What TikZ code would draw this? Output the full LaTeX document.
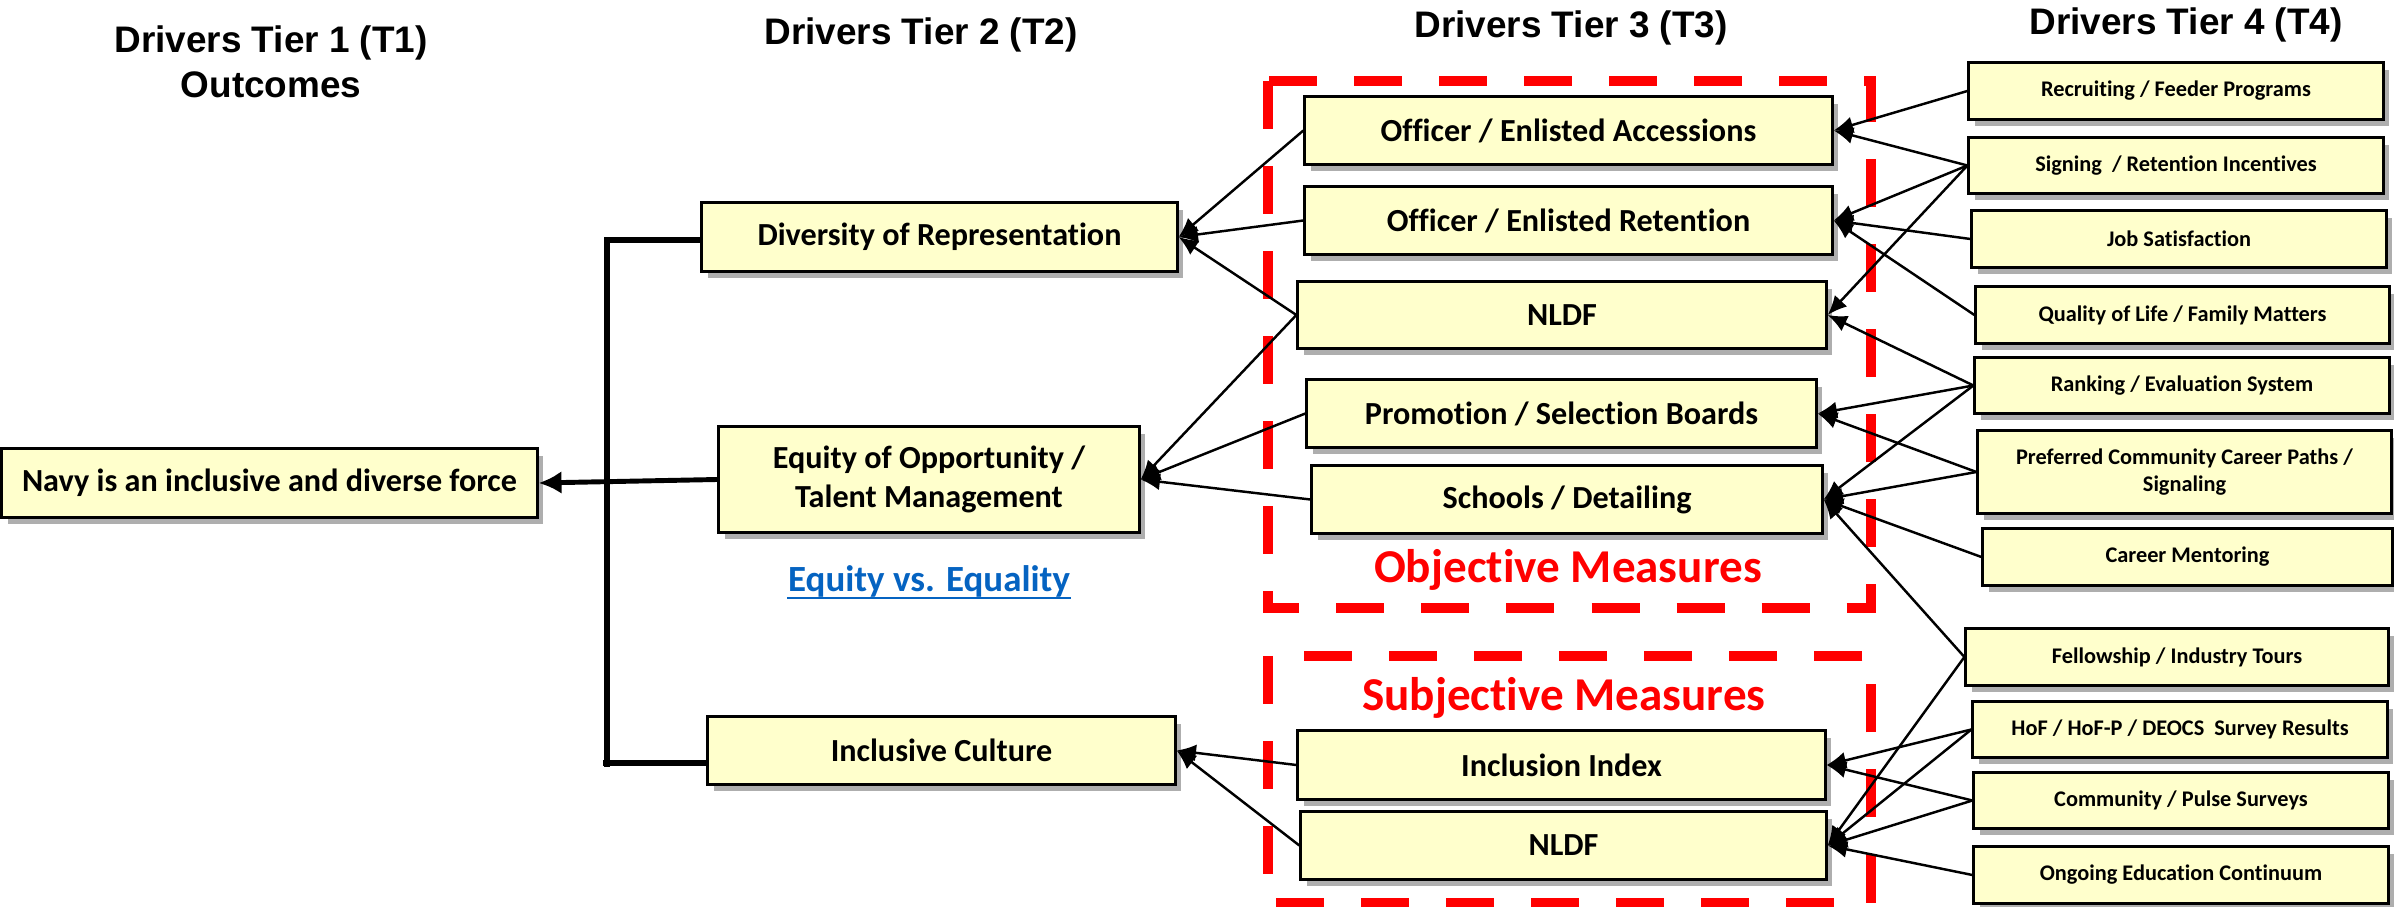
\documentclass[tikz,border=0pt]{standalone}
\usepackage{fontspec}
\setmainfont{Carlito}[Ligatures={NoCommon, NoContextual}]
\newfontfamily\headfont{Liberation Sans}
\usetikzlibrary{arrows.meta, shadows}

\definecolor{boxfill}{RGB}{255,255,204}
\definecolor{measurered}{RGB}{255,0,0}
\definecolor{linkblue}{RGB}{5,99,193}

\tikzset{
  drv/.style={draw=black, line width=0.85pt, fill=boxfill, inner sep=0pt, align=center,
    font=\bfseries\fontsize{9.15}{11.2}\selectfont,
    drop shadow={shadow xshift=0.06cm, shadow yshift=-0.07cm, opacity=0.45, fill=black!70}},
  tfour/.style={drv, font=\bfseries\fontsize{6.35}{7.7}\selectfont},
  tierhead/.style={font=\headfont\bfseries\fontsize{10.5}{12.8}\selectfont, inner sep=0pt},
  link/.style={line width=0.7pt, -{Latex[length=5.5pt, width=4.8pt]}},
  mainlink/.style={line width=1.4pt, -{Latex[length=6.5pt, width=6.5pt]}},
  bracket/.style={line width=1.5pt},
  measurebox/.style={draw=measurered, line width=3.1pt, dash pattern=on 0.48cm off 0.37cm},
  measurelabel/.style={text=measurered, inner sep=0pt, font=\bfseries\fontsize{13.4}{15.5}\selectfont}
}

\begin{document}
\begin{tikzpicture}[x=0.01cm, y=-0.01cm]
                  \useasboundingbox (0,0) rectangle (2394,907);

                  % Tier headers
                  \node[tierhead, anchor=base] (hone) at (271,53) {Drivers Tier 1 (T1)};
                  \node[tierhead, anchor=base] (honeb) at (271,98) {Outcomes};
                  \node[tierhead, anchor=base] (htwo) at (921,45) {Drivers Tier 2 (T2)};
                  \node[tierhead, anchor=base] (hthree) at (1571,38) {Drivers Tier 3 (T3)};
                  \node[tierhead, anchor=base] (hfour) at (2186,35) {Drivers Tier 4 (T4)};

                  % Measure groups
                  \draw[measurebox] (1268,81) rectangle (1871,608);
                  \draw[measurebox] (1268,656) rectangle (1871,903);
                  \node[measurelabel, anchor=base] (objlbl) at (1568,583) {Objective Measures};
                  \node[measurelabel, anchor=base] (subjlbl) at (1564,710) {Subjective Measures};

                  % Tier 1
                  \node[drv, minimum width=5.35cm, minimum height=0.68cm] (navy) at (269.5,483) {Navy is an inclusive and diverse force};

                  % Tier 2
                  \node[drv, minimum width=4.75cm, minimum height=0.68cm] (div) at (939.5,237) {Diversity of Representation};
                  \node[drv, minimum width=4.2cm, minimum height=1.05cm] (eqt) at (929,479.5) {Equity of Opportunity /\\Talent Management};
                  \node[drv, minimum width=4.67cm, minimum height=0.67cm] (inc) at (941.5,750.5) {Inclusive Culture};
                  \node[inner sep=0pt, anchor=base, text=linkblue, font=\bfseries\fontsize{10.5}{12.5}\selectfont] (eqlink) at (929,592) {Equity vs. Equality};
                  \draw[linkblue, line width=0.6pt] ([yshift=-1.6pt]eqlink.base west) -- ([yshift=-1.6pt]eqlink.base east);

                  % Tier 3
                  \node[drv, minimum width=5.27cm, minimum height=0.67cm] (acc) at (1568.5,130.5) {Officer / Enlisted Accessions};
                  \node[drv, minimum width=5.27cm, minimum height=0.67cm] (ret) at (1568.5,220.5) {Officer / Enlisted Retention};
                  \node[drv, minimum width=5.28cm, minimum height=0.66cm] (nldfA) at (1562,315) {NLDF};
                  \node[drv, minimum width=5.09cm, minimum height=0.67cm] (prom) at (1561.5,413.5) {Promotion / Selection Boards};
                  \node[drv, minimum width=5.1cm, minimum height=0.67cm] (sch) at (1567,499.5) {Schools / Detailing};
                  \node[drv, minimum width=5.27cm, minimum height=0.68cm] (incl) at (1561.5,765) {Inclusion Index};
                  \node[drv, minimum width=5.25cm, minimum height=0.67cm] (nldfB) at (1563.5,845.5) {NLDF};

                  % Tier 4
                  \node[tfour, minimum width=4.14cm, minimum height=0.56cm] (rec) at (2176,91) {Recruiting / Feeder Programs};
                  \node[tfour, minimum width=4.14cm, minimum height=0.55cm] (sign) at (2176,165.5) {Signing~ / Retention Incentives};
                  \node[tfour, minimum width=4.14cm, minimum height=0.56cm] (job) at (2179,239) {Job Satisfaction};
                  \node[tfour, minimum width=4.13cm, minimum height=0.56cm] (qol) at (2182.5,315) {Quality of Life / Family Matters};
                  \node[tfour, minimum width=4.14cm, minimum height=0.55cm] (rank) at (2182,385.5) {Ranking / Evaluation System};
                  \node[tfour, minimum width=4.13cm, minimum height=0.82cm] (pref) at (2184.5,472) {Preferred Community Career Paths /\\Signaling};
                  \node[tfour, minimum width=4.09cm, minimum height=0.56cm] (ment) at (2187.5,557) {Career Mentoring};
                  \node[tfour, minimum width=4.22cm, minimum height=0.56cm] (fell) at (2177,657) {Fellowship / Industry Tours};
                  \node[tfour, minimum width=4.14cm, minimum height=0.55cm] (hof) at (2180,729.5) {HoF / HoF-P / DEOCS~ Survey Results};
                  \node[tfour, minimum width=4.14cm, minimum height=0.55cm] (comm) at (2181,800.5) {Community / Pulse Surveys};
                  \node[tfour, minimum width=4.14cm, minimum height=0.56cm] (ong) at (2181,875) {Ongoing Education Continuum};

                  % Bracket and outcome arrow
                  \coordinate (btop) at (607,240);
                  \coordinate (bbot) at (607,767);
                  \coordinate (bstub) at (603,763);
                  \draw[bracket] (div.west |- btop) -- (btop) -- (bbot);
                  \draw[bracket] (bstub) -- (inc.west |- bstub);
                  \draw[mainlink] (eqt.west) -- (navy.east);

                  % Tier 3 to Tier 2
                  \draw[link] (acc.west) -- (div.east);
                  \draw[link] (ret.west) -- (div.east);
                  \draw[link] (nldfA.west) -- (div.east);
                  \draw[link] (nldfA.west) -- (eqt.east);
                  \draw[link] (prom.west) -- (eqt.east);
                  \draw[link] (sch.west) -- (eqt.east);
                  \draw[link] (incl.west) -- (inc.east);
                  \draw[link] (nldfB.west) -- (inc.east);

                  % Tier 4 to Tier 3
                  \draw[link] (rec.west) -- (acc.east);
                  \draw[link] (sign.west) -- (acc.east);
                  \draw[link] (sign.west) -- (ret.east);
                  \draw[link] (sign.west) -- (nldfA.east);
                  \draw[link] (job.west) -- (ret.east);
                  \draw[link] (qol.west) -- (ret.east);
                  \draw[link] (rank.west) -- (nldfA.east);
                  \draw[link] (rank.west) -- (prom.east);
                  \draw[link] (rank.west) -- (sch.east);
                  \draw[link] (pref.west) -- (prom.east);
                  \draw[link] (pref.west) -- (sch.east);
                  \draw[link] (ment.west) -- (sch.east);
                  \draw[link] (fell.west) -- (sch.east);
                  \draw[link] (fell.west) -- (nldfB.east);
                  \draw[link] (hof.west) -- (incl.east);
                  \draw[link] (hof.west) -- (nldfB.east);
                  \draw[link] (comm.west) -- (incl.east);
                  \draw[link] (comm.west) -- (nldfB.east);
                  \draw[link] (ong.west) -- (nldfB.east);

              \end{tikzpicture}
\end{document}
